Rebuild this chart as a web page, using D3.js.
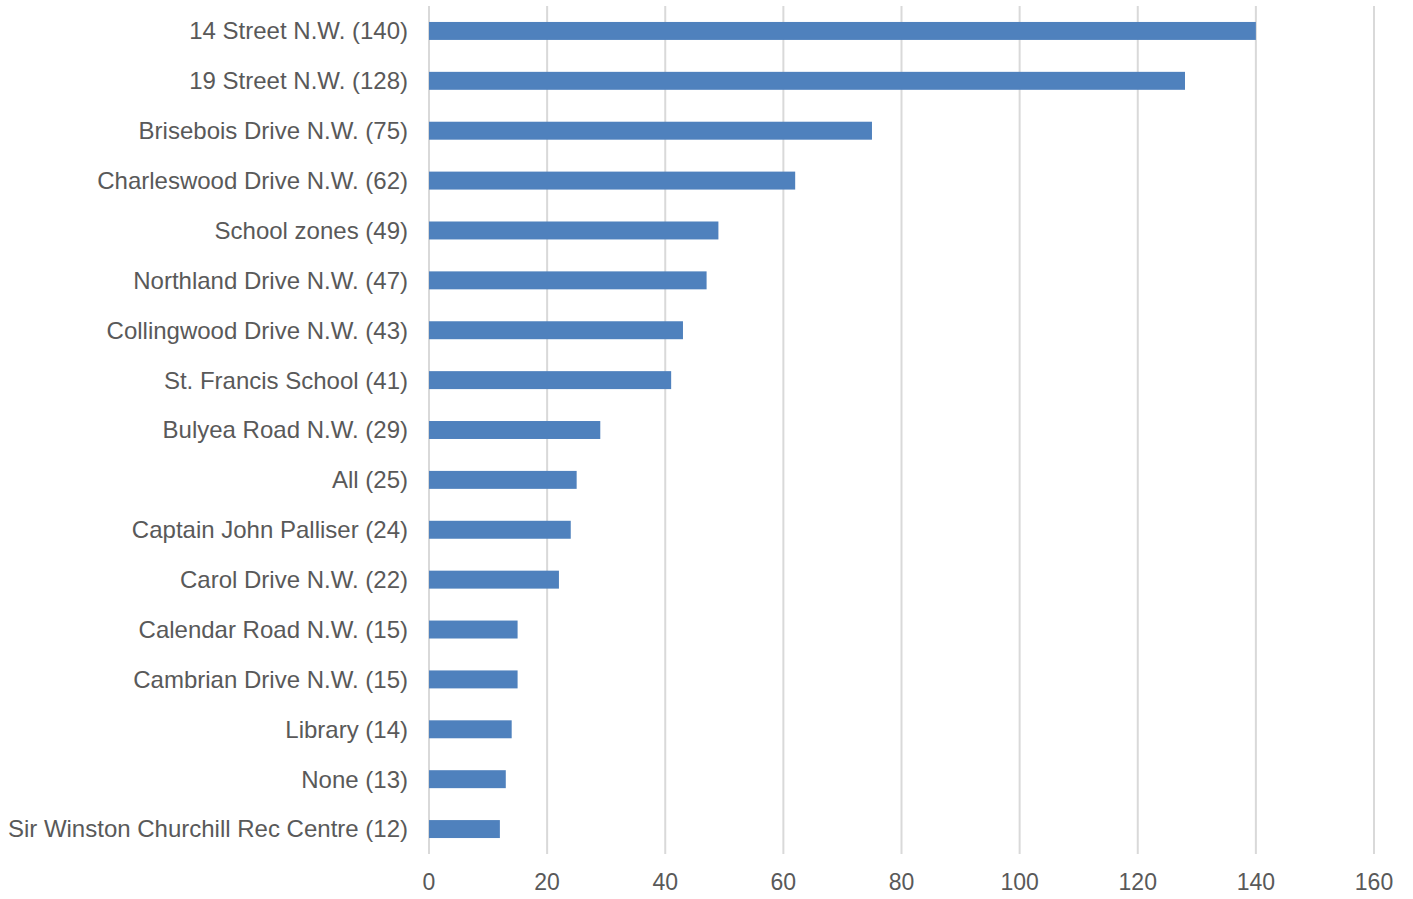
<!DOCTYPE html>
<html lang="en">
<head>
<meta charset="utf-8">
<title>Bar chart</title>
<script src="https://d3js.org/d3.v7.min.js"></script>
<style>
  body { margin: 0; background: #fff; }
  text { font-family: "Liberation Sans", Arial, sans-serif; fill: #595959; }
</style>
</head>
<body>
<div id="canvas"></div>
<script>
var categories = ["14 Street N.W. (140)", "19 Street N.W. (128)", "Brisebois Drive N.W. (75)",
  "Charleswood Drive N.W. (62)", "School zones (49)", "Northland Drive N.W. (47)",
  "Collingwood Drive N.W. (43)", "St. Francis School (41)", "Bulyea Road N.W. (29)",
  "All (25)", "Captain John Palliser (24)", "Carol Drive N.W. (22)",
  "Calendar Road N.W. (15)", "Cambrian Drive N.W. (15)", "Library (14)",
  "None (13)", "Sir Winston Churchill Rec Centre (12)"];
var values = [140, 128, 75, 62, 49, 47, 43, 41, 29, 25, 24, 22, 15, 15, 14, 13, 12];
var ticks = [0, 20, 40, 60, 80, 100, 120, 140, 160];

var width = 1413, height = 899;
var margin = {left: 429, right: 39, top: 6, bottom: 45};

var svg = d3.select("#canvas").append("svg")
  .attr("width", width).attr("height", height);

var x = d3.scaleLinear().domain([0, 160]).range([margin.left, width - margin.right]);
var y = d3.scaleBand().domain(categories)
  .range([margin.top, height - margin.bottom]).paddingInner(0.64).paddingOuter(0.32);

// grid lines
svg.append("g").selectAll("line").data(ticks).enter().append("line")
  .attr("x1", d => x(d)).attr("x2", d => x(d))
  .attr("y1", margin.top).attr("y2", height - margin.bottom)
  .style("stroke", "#d9d9d9").style("stroke-width", 2);

// bars
svg.append("g").selectAll("rect").data(values).enter().append("rect")
  .attr("x", x(0))
  .attr("y", (d, i) => y(categories[i]))
  .attr("width", d => x(d) - x(0))
  .attr("height", y.bandwidth())
  .style("fill", "#4f81bd");

// category labels
svg.append("g").selectAll("text").data(categories).enter().append("text")
  .attr("x", x(0) - 21)
  .attr("y", d => y(d) + y.bandwidth() / 2)
  .attr("dy", "0.35em")
  .style("text-anchor", "end")
  .style("font-size", "24px")
  .text(d => d);

// tick labels
svg.append("g").selectAll("text").data(ticks).enter().append("text")
  .attr("x", d => x(d))
  .attr("y", 882)
  .attr("dy", "0.35em")
  .style("text-anchor", "middle")
  .style("font-size", "23px")
  .text(d => d);
</script>
</body>
</html>
